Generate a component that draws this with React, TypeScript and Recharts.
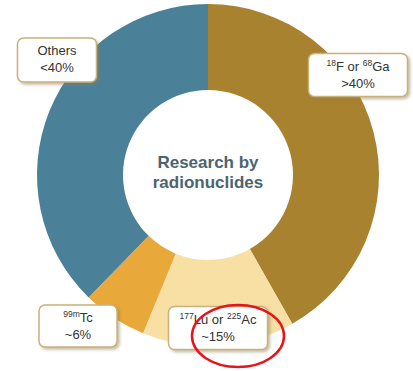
import { PieChart, Pie, Cell, Customized } from 'recharts';

const slices = ['18F or 68Ga', '177Lu or 225Ac', '99mTc', 'Others'];
const shares = [41.8, 14.4, 6.1, 37.7];
const shareLabels = ['>40%', '~15%', '~6%', '<40%'];
const colors = ['#A9822F', '#F8DFA3', '#E8A83A', '#4A8199'];
const circled = '177Lu or 225Ac';

// label box placement relative to pie centre: [dx, dy, width, height]
const boxes: Record<string, number[]> = {
  '18F or 68Ga': [150, -100, 99, 43],
  '177Lu or 225Ac': [10, 153, 99, 43],
  '99mTc': [-130, 151, 78, 42],
  'Others': [-151, -115, 79, 44],
};

const data = slices.map((name, i) => ({ name, value: shares[i], share: shareLabels[i] }));

function Isotope({ text }: { text: string }) {
  // split "177Lu or 225Ac" into mass numbers + symbols
  const parts = text.split(/(\d+m?)/).filter(Boolean);
  return (
    <>
      {parts.map((p, i) =>
        /^\d/.test(p) ? (
          <tspan key={i} fontSize={8.5} dy={-5}>{p}</tspan>
        ) : (
          <tspan key={i} dy={i > 0 && /^\d/.test(parts[i - 1]) ? 5 : 0}>{p}</tspan>
        )
      )}
    </>
  );
}

function renderLabel(props: any) {
  const { cx, cy, payload, name } = props;
  const key = payload?.name ?? name;
  const [dx, dy, w, h] = boxes[key];
  const x = cx + dx - w / 2;
  const y = cy + dy - h / 2;
  return (
    <g>
      <rect x={x} y={y} width={w} height={h} rx={6} fill="#fff" stroke="#C9B27A" strokeWidth={1.5} filter="url(#boxShadow)" />
      <text x={cx + dx} y={y + 17} textAnchor="middle" fontSize={13} fill="#333" fontFamily="Liberation Sans, Arial, sans-serif">
        {key === 'Others' ? 'Others' : <Isotope text={key} />}
      </text>
      <text x={cx + dx} y={y + 34} textAnchor="middle" fontSize={13} fill="#333" fontFamily="Liberation Sans, Arial, sans-serif">
        {payload?.share}
      </text>
      {key === circled && (
        <ellipse cx={cx + 30} cy={cy + 161} rx={46} ry={31} fill="none" stroke="#E8141B" strokeWidth={2.5} />
      )}
    </g>
  );
}

export default function App() {
  return (
    <div style={{ position: 'absolute', left: 0, top: 0, background: '#fff' }}>
      <PieChart width={413} height={371} margin={{ top: 0, right: 0, bottom: 0, left: 0 }}>
        <defs>
          <filter id="boxShadow" x="-20%" y="-20%" width="150%" height="160%">
            <feDropShadow dx={2} dy={2} stdDeviation={1.5} floodColor="#8a7a50" floodOpacity={0.5} />
          </filter>
        </defs>
        <Pie
          data={data}
          dataKey="value"
          nameKey="name"
          cx={208}
          cy={175}
          innerRadius={85}
          outerRadius={171}
          startAngle={90}
          endAngle={-270}
          stroke="none"
          label={renderLabel}
          labelLine={false}
          isAnimationActive={false}
        >
          {data.map((d, i) => (
            <Cell key={d.name} fill={colors[i]} />
          ))}
        </Pie>
        <Customized
          component={() => (
            <g fontFamily="Liberation Sans, Arial, sans-serif">
              <text x={208} y={168} textAnchor="middle" fontSize={17} fontWeight="bold" fill="#4B6471">Research by</text>
              <text x={208} y={188} textAnchor="middle" fontSize={17} fontWeight="bold" fill="#4B6471">radionuclides</text>
            </g>
          )}
        />
      </PieChart>
    </div>
  );
}
